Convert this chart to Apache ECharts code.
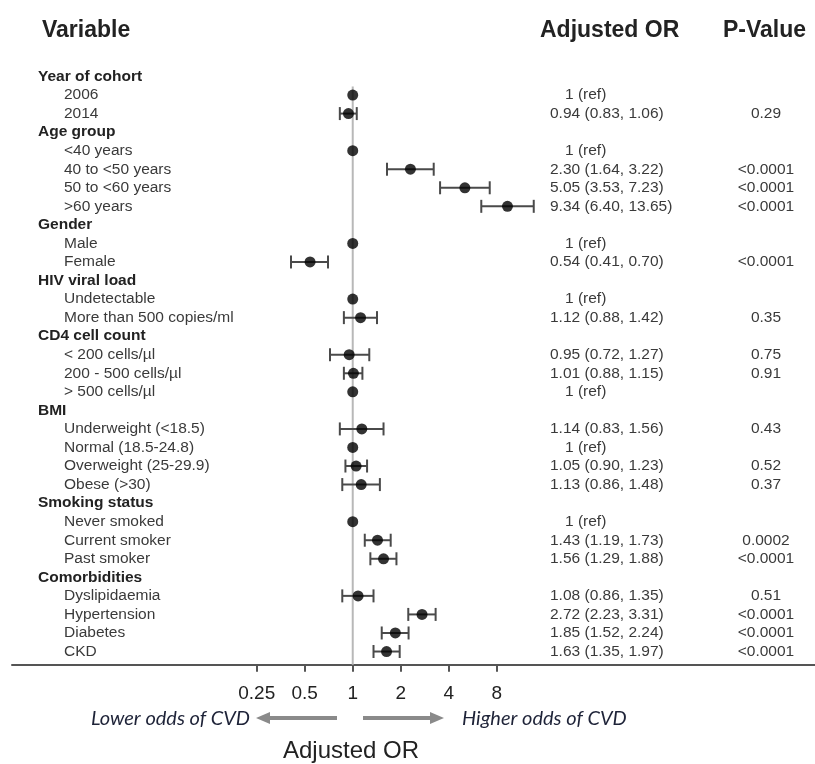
<!DOCTYPE html>
<html><head><meta charset="utf-8">
<script src="https://cdn.jsdelivr.net/npm/echarts@6/dist/echarts.min.js"></script>
<style>html,body{margin:0;padding:0;background:#fff}#c{width:815px;height:764px}</style>
</head><body><div id="c"></div>
<script>
const rows = ['Year of cohort','2006','2014','Age group','<40 years','40 to <50 years','50 to <60 years','>60 years',
  'Gender','Male','Female','HIV viral load','Undetectable','More than 500 copies/ml','CD4 cell count',
  '< 200 cells/µl','200 - 500 cells/µl','> 500 cells/µl','BMI','Underweight (<18.5)','Normal (18.5-24.8)',
  'Overweight (25-29.9)','Obese (>30)','Smoking status','Never smoked','Current smoker','Past smoker',
  'Comorbidities','Dyslipidaemia','Hypertension','Diabetes','CKD'];
const headers = ['Year of cohort','Age group','Gender','HIV viral load','CD4 cell count','BMI','Smoking status','Comorbidities'];
const orVals = [null,1,0.94,null,1,2.30,5.05,9.34,null,1,0.54,null,1,1.12,null,0.95,1.01,1,null,1.14,1,1.05,1.13,null,1,1.43,1.56,null,1.08,2.72,1.85,1.63];
const ciLow  = [null,null,0.83,null,null,1.64,3.53,6.40,null,null,0.41,null,null,0.88,null,0.72,0.88,null,null,0.83,null,0.90,0.86,null,null,1.19,1.29,null,0.86,2.23,1.52,1.35];
const ciHigh = [null,null,1.06,null,null,3.22,7.23,13.65,null,null,0.70,null,null,1.42,null,1.27,1.15,null,null,1.56,null,1.23,1.48,null,null,1.73,1.88,null,1.35,3.31,2.24,1.97];
const pVals  = ['','','0.29','','','<0.0001','<0.0001','<0.0001','','','<0.0001','','','0.35','','0.75','0.91','','','0.43','','0.52','0.37','','','0.0002','<0.0001','','0.51','<0.0001','<0.0001','<0.0001'];
const tickVals = [0.25,0.5,1,2,4,8];
const refValue = [1];

const orText = orVals.map((v,i)=> v==null ? '' : (ciLow[i]==null ? 'REF' : v.toFixed(2)+' ('+ciLow[i].toFixed(2)+', '+ciHigh[i].toFixed(2)+')'));

const pointData = [];
orVals.forEach((v,i)=>{ if(v!=null) pointData.push([v,i]); });
const barData = [];
ciLow.forEach((v,i)=>{ if(v!=null) barData.push([v,ciHigh[i],i]); });

const chart = echarts.init(document.getElementById('c'), null, {renderer:'canvas'});
const txtCol = '#3a3a3a';
const fam = '"Liberation Sans", Arial, sans-serif';
const catAxis = (idx, margin, align, fmt, rich) => ({
  type:'category', data: rows, inverse:true, gridIndex:0, position:'left',
  axisLine:{show:false}, axisTick:{show:false}, splitLine:{show:false},
  axisLabel:{show:true, inside:true, interval:0, margin:margin, align:align, formatter:fmt, rich:rich,
    fontFamily:fam, fontSize:15.5, color:txtCol}
});
const option = {
  animation:false,
  backgroundColor:'#fff',
  grid:{left:12, right:0, top:67.2, height:593.6, containLabel:false},
  xAxis:{
    type:'log', logBase:2, min:Math.pow(2,-7.098), max:Math.pow(2,9.63), offset:4,
    axisLine:{show:true, lineStyle:{color:'#555', width:2}},
    axisTick:{show:true, customValues:tickVals, length:7, lineStyle:{color:'#555', width:2}},
    axisLabel:{show:true, customValues:tickVals, margin:19, fontFamily:fam, fontSize:19, color:'#222',
      formatter:(v)=> String(Math.round(v*100)/100)},
    splitLine:{show:false}, minorTick:{show:false}
  },
  yAxis:[
    catAxis(0, 26, 'left', (v)=> headers.includes(v) ? '{h|'+v+'}' : '{i|'+v+'}',
      {h:{fontWeight:'bold', color:'#222', fontFamily:fam, fontSize:15.5}, i:{padding:[0,0,0,26], color:txtCol, fontFamily:fam, fontSize:15.5}}),
    catAxis(1, 538, 'left', (v,i)=> orText[i]==='REF' ? '{r|1 (ref)}' : orText[i],
      {r:{padding:[0,0,0,15], color:txtCol, fontFamily:fam, fontSize:15.5}}),
    catAxis(2, 754, 'center', (v,i)=> pVals[i], {})
  ],
  series:[
    {
      type:'custom', name:'ref', xAxisIndex:0, yAxisIndex:0, data: refValue.map(v=>[v,0]), z:1,
      renderItem:(params, api)=>{
        const p = api.coord([api.value(0), 0]);
        const cs = params.coordSys;
        return {type:'line', shape:{x1:p[0], y1:p[1]+10, x2:p[0], y2:cs.y+cs.height+4},
          style:{stroke:'#b8b8b8', lineWidth:2}};
      }
    },
    {
      type:'custom', name:'ci', xAxisIndex:0, yAxisIndex:0, data: barData, z:2,
      encode:{x:[0,1], y:2},
      renderItem:(params, api)=>{
        const y = api.value(2);
        const a = api.coord([api.value(0), y]);
        const b = api.coord([api.value(1), y]);
        const st = {stroke:'#4a4a4a', lineWidth:2};
        const h = 6.5;
        return {type:'group', children:[
          {type:'line', shape:{x1:a[0], y1:a[1], x2:b[0], y2:b[1]}, style:st},
          {type:'line', shape:{x1:a[0], y1:a[1]-h, x2:a[0], y2:a[1]+h}, style:st},
          {type:'line', shape:{x1:b[0], y1:b[1]-h, x2:b[0], y2:b[1]+h}, style:st}
        ]};
      }
    },
    {
      type:'scatter', name:'OR', xAxisIndex:0, yAxisIndex:0, data: pointData, z:3,
      symbol:'circle', symbolSize:11, itemStyle:{color:'#000'}
    }
  ],
  graphic:[
    {type:'text', left:42, top:19, style:{text:'Variable', font:'bold 23px '+fam, fill:'#222'}},
    {type:'text', left:540, top:19, style:{text:'Adjusted OR', font:'bold 23px '+fam, fill:'#222'}},
    {type:'text', left:723, top:19, style:{text:'P-Value', font:'bold 23px '+fam, fill:'#222'}},
    {type:'text', x:250, y:719, style:{text:'Lower odds of CVD', font:'italic 20px Lato, "Open Sans", sans-serif', fill:'#1e2338', textAlign:'right', textVerticalAlign:'middle'}},
    {type:'text', x:462, y:719, style:{text:'Higher odds of CVD', font:'italic 20px Lato, "Open Sans", sans-serif', fill:'#1e2338', textAlign:'left', textVerticalAlign:'middle'}},
    {type:'line', shape:{x1:337, y1:718, x2:268, y2:718}, style:{stroke:'#8a8a8a', lineWidth:4}},
    {type:'polygon', shape:{points:[[256,718],[270,712],[270,724]]}, style:{fill:'#8a8a8a'}},
    {type:'line', shape:{x1:363, y1:718, x2:432, y2:718}, style:{stroke:'#8a8a8a', lineWidth:4}},
    {type:'polygon', shape:{points:[[444,718],[430,712],[430,724]]}, style:{fill:'#8a8a8a'}},
    {type:'text', x:351, y:751, style:{text:'Adjusted OR', font:'24px '+fam, fill:'#222', textAlign:'center', textVerticalAlign:'middle'}}
  ]
};
chart.setOption(option);
</script></body></html>
